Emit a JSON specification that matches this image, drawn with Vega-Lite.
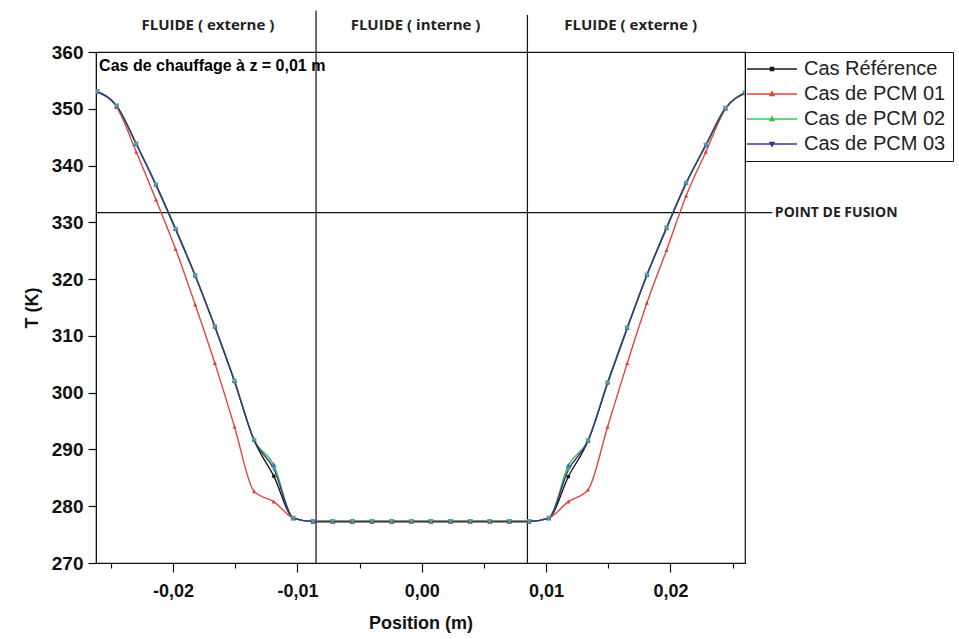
{
  "$schema": "https://vega.github.io/schema/vega-lite/v6.json",
  "width": 649,
  "height": 511,
  "autosize": {"type": "none"},
  "padding": {"left": 96, "top": 52, "right": 214, "bottom": 76},
  "background": "white",
  "config": {
    "view": {"stroke": "#111111", "strokeWidth": 1.2},
    "font": "Liberation Sans"
  },
  "datasets": {
    "curves": [
      {"serie": "Cas Référence", "x": -0.0261, "T": 353.0},
      {"serie": "Cas Référence", "x": -0.02454, "T": 350.5},
      {"serie": "Cas Référence", "x": -0.02296, "T": 343.8},
      {"serie": "Cas Référence", "x": -0.02138, "T": 336.6},
      {"serie": "Cas Référence", "x": -0.0198, "T": 328.8},
      {"serie": "Cas Référence", "x": -0.01822, "T": 320.6},
      {"serie": "Cas Référence", "x": -0.01664, "T": 311.6},
      {"serie": "Cas Référence", "x": -0.01506, "T": 302.0},
      {"serie": "Cas Référence", "x": -0.01348, "T": 291.6},
      {"serie": "Cas Référence", "x": -0.0119, "T": 285.3},
      {"serie": "Cas Référence", "x": -0.01032, "T": 277.9},
      {"serie": "Cas Référence", "x": -0.00874, "T": 277.3},
      {"serie": "Cas Référence", "x": -0.00716, "T": 277.3},
      {"serie": "Cas Référence", "x": -0.00558, "T": 277.3},
      {"serie": "Cas Référence", "x": -0.004, "T": 277.3},
      {"serie": "Cas Référence", "x": -0.00242, "T": 277.3},
      {"serie": "Cas Référence", "x": -0.00084, "T": 277.3},
      {"serie": "Cas Référence", "x": 0.00074, "T": 277.3},
      {"serie": "Cas Référence", "x": 0.00232, "T": 277.3},
      {"serie": "Cas Référence", "x": 0.0039, "T": 277.3},
      {"serie": "Cas Référence", "x": 0.00547, "T": 277.3},
      {"serie": "Cas Référence", "x": 0.00705, "T": 277.3},
      {"serie": "Cas Référence", "x": 0.00863, "T": 277.3},
      {"serie": "Cas Référence", "x": 0.01021, "T": 277.9},
      {"serie": "Cas Référence", "x": 0.01179, "T": 285.2},
      {"serie": "Cas Référence", "x": 0.01337, "T": 291.5},
      {"serie": "Cas Référence", "x": 0.01495, "T": 301.7},
      {"serie": "Cas Référence", "x": 0.01653, "T": 311.4},
      {"serie": "Cas Référence", "x": 0.01811, "T": 320.7},
      {"serie": "Cas Référence", "x": 0.01969, "T": 329.0},
      {"serie": "Cas Référence", "x": 0.02127, "T": 336.9},
      {"serie": "Cas Référence", "x": 0.02285, "T": 343.6},
      {"serie": "Cas Référence", "x": 0.02443, "T": 350.1},
      {"serie": "Cas Référence", "x": 0.02601, "T": 352.8},

      {"serie": "Cas de PCM 01", "x": -0.0261, "T": 353.0},
      {"serie": "Cas de PCM 01", "x": -0.02454, "T": 350.3},
      {"serie": "Cas de PCM 01", "x": -0.02296, "T": 342.4},
      {"serie": "Cas de PCM 01", "x": -0.02138, "T": 334.0},
      {"serie": "Cas de PCM 01", "x": -0.0198, "T": 325.3},
      {"serie": "Cas de PCM 01", "x": -0.01822, "T": 315.5},
      {"serie": "Cas de PCM 01", "x": -0.01664, "T": 305.2},
      {"serie": "Cas de PCM 01", "x": -0.01506, "T": 294.0},
      {"serie": "Cas de PCM 01", "x": -0.01348, "T": 282.6},
      {"serie": "Cas de PCM 01", "x": -0.0119, "T": 280.8},
      {"serie": "Cas de PCM 01", "x": -0.01032, "T": 277.9},
      {"serie": "Cas de PCM 01", "x": -0.00874, "T": 277.3},
      {"serie": "Cas de PCM 01", "x": -0.00716, "T": 277.3},
      {"serie": "Cas de PCM 01", "x": -0.00558, "T": 277.3},
      {"serie": "Cas de PCM 01", "x": -0.004, "T": 277.3},
      {"serie": "Cas de PCM 01", "x": -0.00242, "T": 277.3},
      {"serie": "Cas de PCM 01", "x": -0.00084, "T": 277.3},
      {"serie": "Cas de PCM 01", "x": 0.00074, "T": 277.3},
      {"serie": "Cas de PCM 01", "x": 0.00232, "T": 277.3},
      {"serie": "Cas de PCM 01", "x": 0.0039, "T": 277.3},
      {"serie": "Cas de PCM 01", "x": 0.00547, "T": 277.3},
      {"serie": "Cas de PCM 01", "x": 0.00705, "T": 277.3},
      {"serie": "Cas de PCM 01", "x": 0.00863, "T": 277.3},
      {"serie": "Cas de PCM 01", "x": 0.01021, "T": 277.9},
      {"serie": "Cas de PCM 01", "x": 0.01179, "T": 280.8},
      {"serie": "Cas de PCM 01", "x": 0.01337, "T": 282.9},
      {"serie": "Cas de PCM 01", "x": 0.01495, "T": 294.0},
      {"serie": "Cas de PCM 01", "x": 0.01653, "T": 305.2},
      {"serie": "Cas de PCM 01", "x": 0.01811, "T": 315.8},
      {"serie": "Cas de PCM 01", "x": 0.01969, "T": 325.1},
      {"serie": "Cas de PCM 01", "x": 0.02127, "T": 334.7},
      {"serie": "Cas de PCM 01", "x": 0.02285, "T": 342.4},
      {"serie": "Cas de PCM 01", "x": 0.02443, "T": 350.0},
      {"serie": "Cas de PCM 01", "x": 0.02601, "T": 352.8},

      {"serie": "Cas de PCM 02", "x": -0.0261, "T": 353.0},
      {"serie": "Cas de PCM 02", "x": -0.02454, "T": 350.5},
      {"serie": "Cas de PCM 02", "x": -0.02296, "T": 343.8},
      {"serie": "Cas de PCM 02", "x": -0.02138, "T": 336.7},
      {"serie": "Cas de PCM 02", "x": -0.0198, "T": 328.9},
      {"serie": "Cas de PCM 02", "x": -0.01822, "T": 320.7},
      {"serie": "Cas de PCM 02", "x": -0.01664, "T": 311.7},
      {"serie": "Cas de PCM 02", "x": -0.01506, "T": 302.1},
      {"serie": "Cas de PCM 02", "x": -0.01348, "T": 291.7},
      {"serie": "Cas de PCM 02", "x": -0.0119, "T": 287.3},
      {"serie": "Cas de PCM 02", "x": -0.01032, "T": 277.9},
      {"serie": "Cas de PCM 02", "x": -0.00874, "T": 277.3},
      {"serie": "Cas de PCM 02", "x": -0.00716, "T": 277.3},
      {"serie": "Cas de PCM 02", "x": -0.00558, "T": 277.3},
      {"serie": "Cas de PCM 02", "x": -0.004, "T": 277.3},
      {"serie": "Cas de PCM 02", "x": -0.00242, "T": 277.3},
      {"serie": "Cas de PCM 02", "x": -0.00084, "T": 277.3},
      {"serie": "Cas de PCM 02", "x": 0.00074, "T": 277.3},
      {"serie": "Cas de PCM 02", "x": 0.00232, "T": 277.3},
      {"serie": "Cas de PCM 02", "x": 0.0039, "T": 277.3},
      {"serie": "Cas de PCM 02", "x": 0.00547, "T": 277.3},
      {"serie": "Cas de PCM 02", "x": 0.00705, "T": 277.3},
      {"serie": "Cas de PCM 02", "x": 0.00863, "T": 277.3},
      {"serie": "Cas de PCM 02", "x": 0.01021, "T": 277.9},
      {"serie": "Cas de PCM 02", "x": 0.01179, "T": 287.2},
      {"serie": "Cas de PCM 02", "x": 0.01337, "T": 291.6},
      {"serie": "Cas de PCM 02", "x": 0.01495, "T": 301.9},
      {"serie": "Cas de PCM 02", "x": 0.01653, "T": 311.5},
      {"serie": "Cas de PCM 02", "x": 0.01811, "T": 320.8},
      {"serie": "Cas de PCM 02", "x": 0.01969, "T": 329.1},
      {"serie": "Cas de PCM 02", "x": 0.02127, "T": 337.0},
      {"serie": "Cas de PCM 02", "x": 0.02285, "T": 343.6},
      {"serie": "Cas de PCM 02", "x": 0.02443, "T": 350.1},
      {"serie": "Cas de PCM 02", "x": 0.02601, "T": 352.8},

      {"serie": "Cas de PCM 03", "x": -0.0261, "T": 353.0},
      {"serie": "Cas de PCM 03", "x": -0.02454, "T": 350.5},
      {"serie": "Cas de PCM 03", "x": -0.02296, "T": 343.8},
      {"serie": "Cas de PCM 03", "x": -0.02138, "T": 336.6},
      {"serie": "Cas de PCM 03", "x": -0.0198, "T": 328.8},
      {"serie": "Cas de PCM 03", "x": -0.01822, "T": 320.6},
      {"serie": "Cas de PCM 03", "x": -0.01664, "T": 311.6},
      {"serie": "Cas de PCM 03", "x": -0.01506, "T": 302.0},
      {"serie": "Cas de PCM 03", "x": -0.01348, "T": 291.6},
      {"serie": "Cas de PCM 03", "x": -0.0119, "T": 286.6},
      {"serie": "Cas de PCM 03", "x": -0.01032, "T": 277.9},
      {"serie": "Cas de PCM 03", "x": -0.00874, "T": 277.3},
      {"serie": "Cas de PCM 03", "x": -0.00716, "T": 277.3},
      {"serie": "Cas de PCM 03", "x": -0.00558, "T": 277.3},
      {"serie": "Cas de PCM 03", "x": -0.004, "T": 277.3},
      {"serie": "Cas de PCM 03", "x": -0.00242, "T": 277.3},
      {"serie": "Cas de PCM 03", "x": -0.00084, "T": 277.3},
      {"serie": "Cas de PCM 03", "x": 0.00074, "T": 277.3},
      {"serie": "Cas de PCM 03", "x": 0.00232, "T": 277.3},
      {"serie": "Cas de PCM 03", "x": 0.0039, "T": 277.3},
      {"serie": "Cas de PCM 03", "x": 0.00547, "T": 277.3},
      {"serie": "Cas de PCM 03", "x": 0.00705, "T": 277.3},
      {"serie": "Cas de PCM 03", "x": 0.00863, "T": 277.3},
      {"serie": "Cas de PCM 03", "x": 0.01021, "T": 277.9},
      {"serie": "Cas de PCM 03", "x": 0.01179, "T": 286.4},
      {"serie": "Cas de PCM 03", "x": 0.01337, "T": 291.5},
      {"serie": "Cas de PCM 03", "x": 0.01495, "T": 301.7},
      {"serie": "Cas de PCM 03", "x": 0.01653, "T": 311.4},
      {"serie": "Cas de PCM 03", "x": 0.01811, "T": 320.7},
      {"serie": "Cas de PCM 03", "x": 0.01969, "T": 329.0},
      {"serie": "Cas de PCM 03", "x": 0.02127, "T": 336.9},
      {"serie": "Cas de PCM 03", "x": 0.02285, "T": 343.6},
      {"serie": "Cas de PCM 03", "x": 0.02443, "T": 350.1},
      {"serie": "Cas de PCM 03", "x": 0.02601, "T": 352.8}
    ],
    "vlines": [
      {"x": -0.0085, "T": 270, "T2": 367.3},
      {"x": 0.0085, "T": 270, "T2": 366.5}
    ],
    "hline": [
      {"x": -0.0262, "x2": 0.0282, "T": 331.7}
    ],
    "zones": [
      {"label": "FLUIDE ( externe )", "x": -0.0172, "T": 364.8},
      {"label": "FLUIDE ( interne )", "x": -0.0005, "T": 364.8},
      {"label": "FLUIDE ( externe )", "x": 0.0168, "T": 364.8}
    ],
    "titre": [
      {"label": "Cas de chauffage à z = 0,01 m", "x": -0.02595, "T": 357.5}
    ],
    "fusion": [
      {"label": "POINT DE FUSION", "x": 0.0284, "T": 331.7}
    ]
  },
  "layer": [
    {
      "data": {"name": "vlines"},
      "mark": {"type": "rule", "color": "#111111", "strokeWidth": 1.2, "clip": false},
      "encoding": {
        "x": {"field": "x", "type": "quantitative", "scale": {"domain": [-0.0262, 0.026], "nice": false, "zero": false}},
        "y": {"field": "T", "type": "quantitative", "scale": {"domain": [270, 360], "nice": false, "zero": false}},
        "y2": {"field": "T2"}
      }
    },
    {
      "data": {"name": "hline"},
      "mark": {"type": "rule", "color": "#111111", "strokeWidth": 1.2, "clip": false},
      "encoding": {
        "x": {"field": "x", "type": "quantitative", "scale": {"domain": [-0.0262, 0.026], "nice": false, "zero": false}},
        "x2": {"field": "x2"},
        "y": {"field": "T", "type": "quantitative", "scale": {"domain": [270, 360], "nice": false, "zero": false}}
      }
    },
    {
      "data": {"name": "curves"},
      "mark": {"type": "line", "interpolate": "monotone", "strokeWidth": 1.4, "clip": true},
      "encoding": {
        "x": {
          "field": "x", "type": "quantitative",
          "scale": {"domain": [-0.0262, 0.026], "nice": false, "zero": false},
          "axis": {
            "values": [-0.025, -0.02, -0.015, -0.01, -0.005, 0, 0.005, 0.01, 0.015, 0.02, 0.025],
            "labelExpr": "abs(round(datum.value*1000)) % 10 == 0 ? (datum.value < -0.0001 ? '-' : '') + replace(format(abs(datum.value), '.2f'), '.', ',') : ''",
            "tickSize": {"condition": {"test": "abs(round(datum.value*1000)) % 10 == 0", "value": 9}, "value": 5},
            "tickColor": "#111111",
            "tickWidth": 1.2,
            "domainColor": "#111111",
            "grid": false,
            "labelFont": "Liberation Sans",
            "labelFontSize": 18,
            "labelFontWeight": "bold",
            "labelColor": "#111111",
            "labelPadding": 10,
            "labelOverlap": false,
            "labelFlush": false,
            "title": "Position (m)",
            "titleFont": "Liberation Sans",
            "titleFontSize": 18,
            "titleFontWeight": "bold",
            "titleColor": "#111111",
            "titlePadding": 14
          }
        },
        "y": {
          "field": "T", "type": "quantitative",
          "scale": {"domain": [270, 360], "nice": false, "zero": false},
          "axis": {
            "values": [270, 275, 280, 285, 290, 295, 300, 305, 310, 315, 320, 325, 330, 335, 340, 345, 350, 355, 360],
            "labelExpr": "datum.value % 10 == 0 ? datum.value : ''",
            "tickSize": {"condition": {"test": "datum.value % 10 == 0", "value": 8}, "value": 5},
            "tickColor": "#111111",
            "tickWidth": 1.2,
            "domainColor": "#111111",
            "grid": false,
            "labelFont": "Liberation Sans",
            "labelFontSize": 19,
            "labelFontWeight": "bold",
            "labelColor": "#111111",
            "labelPadding": 5,
            "labelOverlap": false,
            "labelFlush": false,
            "title": "T (K)",
            "titleFont": "Liberation Sans",
            "titleFontSize": 18,
            "titleFontWeight": "bold",
            "titleColor": "#111111",
            "titlePadding": 10
          }
        },
        "color": {
          "field": "serie", "type": "nominal",
          "scale": {
            "domain": ["Cas Référence", "Cas de PCM 01", "Cas de PCM 02", "Cas de PCM 03"],
            "range": ["#1a1a1a", "#e0463f", "#3cc34a", "#36368a"]
          },
          "legend": {
            "orient": "none",
            "legendX": 649,
            "legendY": 0,
            "title": null,
            "symbolType": "M-5,0H5",
            "symbolSize": 100,
            "symbolStrokeWidth": 1.5,
            "symbolOffset": 10,
            "labelFont": "Liberation Sans",
            "labelFontSize": 20,
            "labelColor": "#222222",
            "labelLimit": 400,
            "labelOffset": 22,
            "rowPadding": 5,
            "padding": 7,
            "strokeColor": "#111111",
            "fillColor": "white",
            "encode": {
              "symbols": {
                "update": {
                  "shape": {"signal": "datum.value === 'Cas Référence' ? 'M-5,0H5M-0.3,-0.3H0.3V0.3H-0.3Z' : datum.value === 'Cas de PCM 03' ? 'M-5,0H5M0,0.45L0.4,-0.3H-0.4Z' : 'M-5,0H5M0,-0.45L0.4,0.3H-0.4Z'"}
                }
              }
            }
          }
        }
      }
    },
    {
      "data": {"name": "curves"},
      "transform": [{"filter": "datum.serie == 'Cas Référence'"}],
      "mark": {"type": "point", "filled": true, "size": 14, "strokeWidth": 0, "opacity": 1, "color": "#1a1a1a", "shape": "circle", "clip": true},
      "encoding": {
        "x": {"field": "x", "type": "quantitative", "scale": {"domain": [-0.0262, 0.026], "nice": false, "zero": false}},
        "y": {"field": "T", "type": "quantitative", "scale": {"domain": [270, 360], "nice": false, "zero": false}}
      }
    },
    {
      "data": {"name": "curves"},
      "transform": [{"filter": "datum.serie == 'Cas de PCM 01'"}],
      "mark": {"type": "point", "filled": true, "size": 18, "strokeWidth": 0, "opacity": 1, "color": "#d9403a", "shape": "triangle-up", "clip": true},
      "encoding": {
        "x": {"field": "x", "type": "quantitative", "scale": {"domain": [-0.0262, 0.026], "nice": false, "zero": false}},
        "y": {"field": "T", "type": "quantitative", "scale": {"domain": [270, 360], "nice": false, "zero": false}}
      }
    },
    {
      "data": {"name": "curves"},
      "transform": [{"filter": "datum.serie == 'Cas de PCM 02'"}],
      "mark": {"type": "point", "filled": true, "size": 28, "strokeWidth": 0, "opacity": 1, "color": "#2f6fb0", "shape": "triangle-up", "clip": true},
      "encoding": {
        "x": {"field": "x", "type": "quantitative", "scale": {"domain": [-0.0262, 0.026], "nice": false, "zero": false}},
        "y": {"field": "T", "type": "quantitative", "scale": {"domain": [270, 360], "nice": false, "zero": false}}
      }
    },
    {
      "data": {"name": "curves"},
      "transform": [{"filter": "datum.serie == 'Cas de PCM 03'"}],
      "mark": {"type": "point", "filled": true, "size": 32, "strokeWidth": 0, "opacity": 1, "color": "#5a9ea0", "shape": "triangle-down", "clip": true},
      "encoding": {
        "x": {"field": "x", "type": "quantitative", "scale": {"domain": [-0.0262, 0.026], "nice": false, "zero": false}},
        "y": {"field": "T", "type": "quantitative", "scale": {"domain": [270, 360], "nice": false, "zero": false}}
      }
    },
    {
      "data": {"name": "zones"},
      "mark": {"type": "text", "font": "Open Sans", "fontSize": 15, "fontWeight": "bold", "color": "#222222", "align": "center", "baseline": "middle", "clip": false},
      "encoding": {
        "x": {"field": "x", "type": "quantitative", "scale": {"domain": [-0.0262, 0.026], "nice": false, "zero": false}},
        "y": {"field": "T", "type": "quantitative", "scale": {"domain": [270, 360], "nice": false, "zero": false}},
        "text": {"field": "label"}
      }
    },
    {
      "data": {"name": "titre"},
      "mark": {"type": "text", "font": "Liberation Sans", "fontSize": 16, "fontWeight": "bold", "color": "#000000", "align": "left", "baseline": "middle", "clip": false},
      "encoding": {
        "x": {"field": "x", "type": "quantitative", "scale": {"domain": [-0.0262, 0.026], "nice": false, "zero": false}},
        "y": {"field": "T", "type": "quantitative", "scale": {"domain": [270, 360], "nice": false, "zero": false}},
        "text": {"field": "label"}
      }
    },
    {
      "data": {"name": "fusion"},
      "mark": {"type": "text", "font": "Open Sans", "fontSize": 14, "fontWeight": "bold", "color": "#222222", "align": "left", "baseline": "middle", "clip": false},
      "encoding": {
        "x": {"field": "x", "type": "quantitative", "scale": {"domain": [-0.0262, 0.026], "nice": false, "zero": false}},
        "y": {"field": "T", "type": "quantitative", "scale": {"domain": [270, 360], "nice": false, "zero": false}},
        "text": {"field": "label"}
      }
    }
  ]
}
